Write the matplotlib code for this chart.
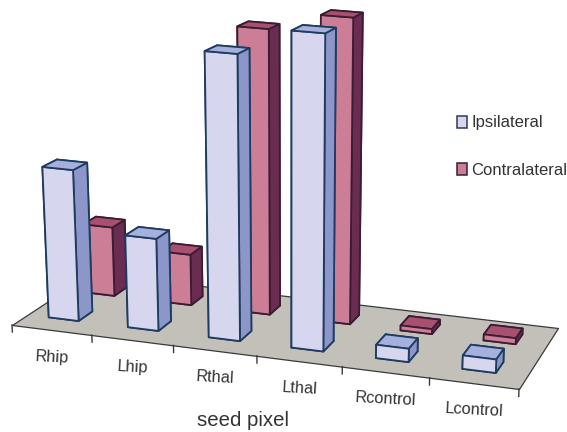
import numpy as np
import matplotlib
matplotlib.use("Agg")
import matplotlib.pyplot as plt
from matplotlib.patches import Patch
from mpl_toolkits.mplot3d.art3d import Poly3DCollection

plt.rcParams['font.family'] = ['Liberation Sans', 'DejaVu Sans']

categories = ['Rhip', 'Lhip', 'Rthal', 'Lthal', 'Rcontrol', 'Lcontrol']
ipsilateral = [149, 91, 272, 297, 13, 13]
contralateral = [71, 52, 281, 298, 5, 6]
series_names = ['Ipsilateral', 'Contralateral']
x_title = 'seed pixel'

W, H = 567, 432
fig = plt.figure(figsize=(W / 100, H / 100), dpi=100, facecolor='white')
ax = fig.add_axes([0, 0, 1, 1], projection='3d', computed_zorder=False)
ax.set_axis_off()
ax.apply_aspect = lambda position=None: None

# camera: floor plane (category, depth) -> picture pixels, solved as a homography
src = [(0, 0), (6, 0), (6, 1), (0, 1)]
dst = [(12, 325), (519, 389), (558, 328), (91, 273)]
A, B = [], []
for (u, v), (px, py) in zip(src, dst):
    A.append([u, v, 1, 0, 0, 0, -u * px, -v * px]); B.append(px)
    A.append([0, 0, 0, u, v, 1, -u * py, -v * py]); B.append(py)
h = np.linalg.solve(np.array(A, float), np.array(B, float))
k = -1 / 5700.0
vx, vy = 290.0, 6000.0
P = np.array([
    [h[0], h[1], vx * k, h[2]],
    [h[3], h[4], vy * k, h[5]],
    [h[6], h[7], k, 1.0],
])


def pixel(u, v, z=0.0):
    q = P @ np.array([u, v, z, 1.0])
    return q[0] / q[2], q[1] / q[2]


def get_proj():
    (x0, x1), (y0, y1) = ax.viewLim.intervalx, ax.viewLim.intervaly
    sx, sy = (x1 - x0) / W, (y1 - y0) / H
    return np.array([
        sx * P[0] + x0 * P[2],
        -sy * P[1] + y1 * P[2],
        [-0.05, 0.14, -0.0006, -0.2],
        P[2],
    ])


ax.get_proj = get_proj

# floor
floor = Poly3DCollection([[(0, 0, 0), (6, 0, 0), (6, 1, 0), (0, 1, 0)]],
                         facecolor='#c2c0b8', edgecolor='#3a3a3a', linewidth=0.9, zorder=1)
ax.add_collection3d(floor)

# ticks under the front edge
for i in range(len(categories) + 1):
    ax.plot([i, i], [0, 0], [0, -7], color='#3a3a3a', lw=1.0, zorder=2)

# faces order in bar3d: bottom, top, front, back, left, right
ipsi_faces = ['#8c96c8', '#a6b0de', '#d6d6ee', '#8c96c8', '#8c96c8', '#8c96c8']
contra_faces = ['#6b2c52', '#a8506f', '#cb7e96', '#6b2c52', '#6b2c52', '#6b2c52']
bar_left, bar_width = 0.27, 0.38
ipsi_depth = (0.185, 0.175)
contra_depth = (0.655, 0.17)

z = 3
for i, v in enumerate(contralateral):
    ax.bar3d(i + bar_left, contra_depth[0], 0, bar_width, contra_depth[1], v, color=contra_faces,
             shade=False, edgecolor='#3c1c34', linewidth=1.3, zorder=z)
    z += 1
for i, v in enumerate(ipsilateral):
    ax.bar3d(i + bar_left, ipsi_depth[0], 0, bar_width, ipsi_depth[1], v, color=ipsi_faces,
             shade=False, edgecolor='#1e3c60', linewidth=1.3, zorder=z)
    z += 1

# category labels below the front edge
for i, name in enumerate(categories):
    px, py = pixel(i + 0.5, 0)
    fig.text(px / W, 1 - (py + 27) / H, name, ha='center', va='center', fontsize=11.8,
             color='#333333', rotation=-3)

fig.text(243 / W, 1 - 420 / H, x_title, ha='center', va='center', fontsize=14.7, color='#333333')

handles = [Patch(facecolor=ipsi_faces[2], edgecolor='#2e3a58', linewidth=1.1),
           Patch(facecolor=contra_faces[2], edgecolor='#3c1c34', linewidth=1.1)]
fig.legend(handles, series_names, loc='upper left', bbox_to_anchor=(457 / W, 1 - 115.5 / H),
           frameon=False, fontsize=12, labelspacing=1.95, handlelength=0.6, handleheight=0.7,
           handletextpad=0.25, borderpad=0, borderaxespad=0, labelcolor='#333333')

fig.savefig('out.png', dpi=100, facecolor='white')
